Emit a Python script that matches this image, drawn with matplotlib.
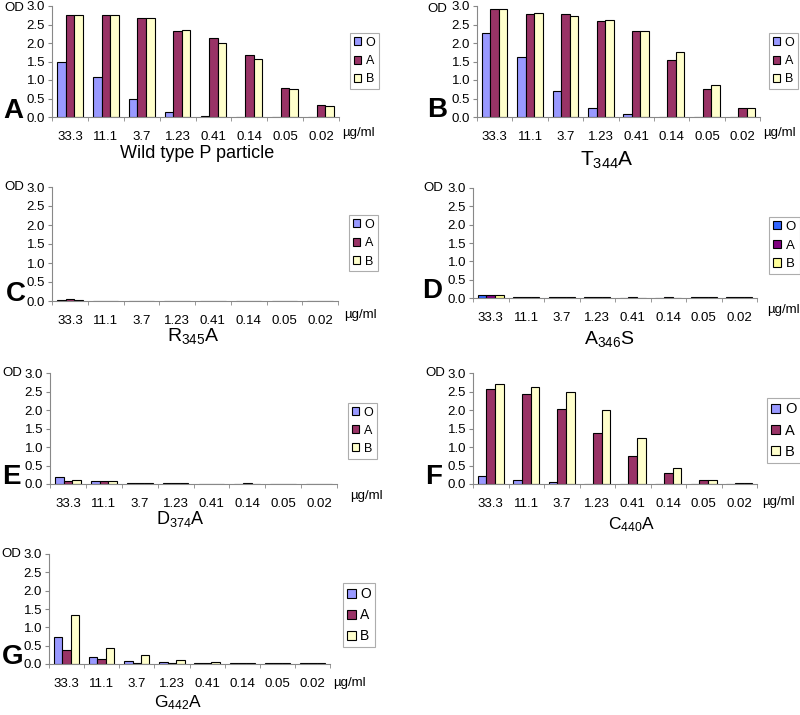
import matplotlib
matplotlib.use("Agg")
import matplotlib.pyplot as plt
import numpy as np

plt.rcParams['font.family'] = ['Liberation Sans', 'DejaVu Sans']
plt.rcParams['mathtext.fontset'] = 'custom'
plt.rcParams['mathtext.rm'] = 'Liberation Sans'
plt.rcParams['mathtext.it'] = 'Liberation Sans'

concentrations = ["33.3", "11.1", "3.7", "1.23", "0.41", "0.14", "0.05", "0.02"]
series_names = ["O", "A", "B"]
yticks = [0.0, 0.5, 1.0, 1.5, 2.0, 2.5, 3.0]

wt_O = [1.49, 1.08, 0.49, 0.13, 0.03, 0, 0, 0]
wt_A = [2.77, 2.77, 2.68, 2.32, 2.14, 1.68, 0.79, 0.32]
wt_B = [2.77, 2.75, 2.68, 2.34, 2.01, 1.57, 0.77, 0.29]

t344_O = [2.27, 1.62, 0.69, 0.23, 0.07, 0, 0, 0]
t344_A = [2.91, 2.79, 2.79, 2.59, 2.32, 1.55, 0.77, 0.25]
t344_B = [2.91, 2.81, 2.74, 2.63, 2.32, 1.75, 0.87, 0.25]

r345_O = [0.02, 0, 0, 0, 0, 0, 0, 0]
r345_A = [0.06, 0, 0, 0, 0, 0, 0, 0]
r345_B = [0.02, 0, 0, 0, 0, 0, 0, 0]

a346_O = [0.08, 0.02, 0.02, 0.02, 0, 0, 0.02, 0.02]
a346_A = [0.08, 0.02, 0.02, 0.02, 0.02, 0.02, 0.02, 0.02]
a346_B = [0.08, 0.02, 0.02, 0.02, 0, 0, 0.02, 0.02]

d374_O = [0.18, 0.07, 0.02, 0.02, 0, 0, 0, 0]
d374_A = [0.07, 0.07, 0.02, 0.02, 0, 0.03, 0, 0]
d374_B = [0.10, 0.07, 0.02, 0.02, 0, 0, 0, 0]

c440_O = [0.22, 0.12, 0.06, 0, 0, 0, 0, 0]
c440_A = [2.58, 2.43, 2.02, 1.39, 0.75, 0.31, 0.10, 0.02]
c440_B = [2.71, 2.61, 2.49, 2.01, 1.23, 0.44, 0.12, 0.02]

g442_O = [0.75, 0.18, 0.09, 0.06, 0.02, 0.02, 0.02, 0.02]
g442_A = [0.38, 0.15, 0.03, 0.03, 0.02, 0.02, 0.02, 0.02]
g442_B = [1.34, 0.45, 0.25, 0.12, 0.06, 0.02, 0.02, 0.02]

colors_std = ['#9999FF', '#993366', '#FFFFCC']
colors_d = ['#3366FF', '#800080', '#FFFF99']

W, H = 800, 715
fig = plt.figure(figsize=(8, 7.15), dpi=100)

def fx(x):
    return x / W

def fy(y):
    return 1 - y / H

panels = [
    # letter, title, data, colors, axes box, legend (x, y, fontsize, spacing), letter pos, title pos, title size, ug pos, OD pos
    ("A", "Wild type P particle", (wt_O, wt_A, wt_B), colors_std, (52, 6, 339, 117), (350, 33, 9, 0.5), (3, 118), (197, 153), 13, (342, 133), (4, 8)),
    ("B", r"T$_{344}$A", (t344_O, t344_A, t344_B), colors_std, (477, 6, 760, 117), (769, 33, 9, 0.5), (427, 117), (607, 160), 15, (763, 133), (427, 9)),
    ("C", r"R$_{345}$A", (r345_O, r345_A, r345_B), colors_std, (52, 187, 338, 301), (349, 215, 9, 0.52), (6, 301), (193, 336), 14, (344, 315), (4, 187)),
    ("D", r"A$_{346}$S", (a346_O, a346_A, a346_B), colors_d, (473, 188, 757, 298), (769, 217, 9.5, 0.5), (422, 298), (609, 339), 14, (767, 310), (423, 188)),
    ("E", r"D$_{374}$A", (d374_O, d374_A, d374_B), colors_std, (50, 373, 337, 484), (348, 403, 9, 0.48), (2, 484), (180, 519), 13, (350, 496), (2, 373)),
    ("F", r"C$_{440}$A", (c440_O, c440_A, c440_B), colors_std, (473, 373, 757, 484), (767, 398, 10.5, 0.5), (425, 484), (632, 525), 12.5, (762, 502), (425, 373)),
    ("G", r"G$_{442}$A", (g442_O, g442_A, g442_B), colors_std, (49, 554, 330, 664), (343, 583, 10, 0.5), (2, 664), (178, 703), 12.5, (333, 683), (1, 554)),
]

x = np.arange(len(concentrations))
bw = 0.24

for letter, title, data, cols, box, lg, lpos, tpos, tsize, ugpos, odpos in panels:
    x0, y0, x1, y1 = box
    ax = fig.add_axes([fx(x0), fy(y1), fx(x1 - x0), (y1 - y0) / H])
    handles = []
    for i, (vals, c) in enumerate(zip(data, cols)):
        h = ax.bar(x + (i - 1) * bw, vals, width=bw, color=c, edgecolor='black',
                   linewidth=0.8, label=series_names[i])
        handles.append(h)
    ax.set_xlim(-0.5, len(concentrations) - 0.5)
    ax.set_ylim(0, 3.0)
    ax.set_yticks(yticks)
    ax.set_yticklabels([f"{v:.1f}" for v in yticks], fontsize=9.5)
    ax.set_xticks(x)
    ax.set_xticklabels(concentrations, fontsize=9.5)
    ax.set_xticks(np.arange(len(concentrations) + 1) - 0.5, minor=True)
    ax.tick_params(axis='x', which='major', length=0, pad=10)
    ax.tick_params(axis='x', which='minor', length=3, color='#888888')
    ax.tick_params(axis='y', length=3, pad=2, color='#888888')
    for s in ['top', 'right']:
        ax.spines[s].set_visible(False)
    ax.spines['left'].set_color('#888888')
    ax.spines['bottom'].set_color('#888888')
    ax.spines['left'].set_linewidth(0.8)
    ax.spines['bottom'].set_linewidth(0.8)
    ax.set_facecolor('white')

    lx0, ly0, lfs, lsp = lg
    leg = fig.legend(handles=handles, loc='upper left',
                     bbox_to_anchor=(fx(lx0), fy(ly0)), borderaxespad=0,
                     fontsize=lfs, handlelength=0.6, handleheight=0.6,
                     handletextpad=0.35, labelspacing=lsp, borderpad=0.3,
                     fancybox=False, frameon=True)
    leg.get_frame().set_edgecolor('#999999')
    leg.get_frame().set_linewidth(0.8)

    fig.text(fx(lpos[0]), fy(lpos[1]), letter, fontsize=20, fontweight='bold',
             ha='left', va='baseline')
    fig.text(fx(tpos[0]), fy(tpos[1]), title, fontsize=tsize, ha='center', va='center')
    fig.text(fx(ugpos[0]), fy(ugpos[1]), "µg/ml", fontsize=9.5, ha='left', va='center')
    fig.text(fx(odpos[0]), fy(odpos[1]), "OD", fontsize=9.5, ha='left', va='center')

fig.savefig("out.png", dpi=100, facecolor='white')
